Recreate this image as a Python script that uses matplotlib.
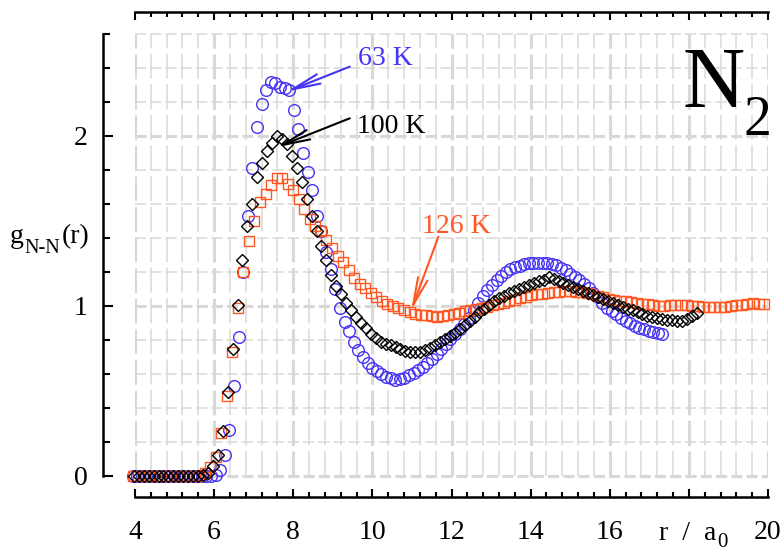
import numpy as np
import matplotlib
matplotlib.use("Agg")
import matplotlib.pyplot as plt
import matplotlib.transforms as mtransforms
from matplotlib.ticker import FixedLocator

plt.rcParams['font.family'] = ['Liberation Serif', 'DejaVu Serif']
plt.rcParams['mathtext.fontset'] = 'custom'
plt.rcParams['mathtext.rm'] = 'Liberation Serif'
plt.rcParams['mathtext.it'] = 'Liberation Serif:italic'
plt.rcParams['lines.scale_dashes'] = False

# ---- radial distribution functions g_N-N(r), r in bohr ----
r_63 = np.linspace(3.94, 17.33, 116)
g_63 = [0.0] * 18 + [
    0.008, 0.035, 0.124, 0.27, 0.53, 0.82, 1.2, 1.53, 1.81, 2.05,
    2.19, 2.27, 2.32, 2.31, 2.29, 2.28, 2.27, 2.15, 2.04, 1.9,
    1.79, 1.68, 1.53, 1.44, 1.32, 1.22, 1.1, 0.99, 0.905, 0.85,
    0.79, 0.74, 0.70, 0.665, 0.635, 0.615, 0.598, 0.585, 0.575, 0.567,
    0.568, 0.578, 0.592, 0.607, 0.622, 0.64, 0.663, 0.69, 0.715, 0.745,
    0.775, 0.805, 0.835, 0.865, 0.895, 0.93, 0.975, 1.02, 1.06, 1.095,
    1.125, 1.15, 1.175, 1.2, 1.215, 1.228, 1.238, 1.245, 1.25, 1.252,
    1.253, 1.253, 1.252, 1.248, 1.24, 1.225, 1.21, 1.19, 1.17, 1.15,
    1.128, 1.105, 1.078, 1.05, 1.02, 0.99, 0.97, 0.95, 0.93, 0.912,
    0.897, 0.884, 0.872, 0.862, 0.853, 0.846, 0.84, 0.836]

r_100 = np.linspace(3.97, 18.20, 115)
g_100 = [0.0] * 14 + [
    0.005, 0.016, 0.059, 0.124, 0.267, 0.496, 0.745, 1.006, 1.27, 1.47,
    1.60, 1.76, 1.84, 1.91, 1.96, 2.0, 1.98, 1.95, 1.88, 1.81,
    1.73, 1.63, 1.53, 1.44, 1.35, 1.27, 1.18, 1.12, 1.07, 1.02,
    0.975, 0.935, 0.90, 0.87, 0.835, 0.81, 0.79, 0.778, 0.77, 0.758,
    0.745, 0.735, 0.73, 0.728, 0.73, 0.74, 0.755, 0.77, 0.787, 0.805,
    0.822, 0.842, 0.865, 0.888, 0.912, 0.937, 0.962, 0.985, 1.008, 1.028,
    1.045, 1.06, 1.075, 1.09, 1.102, 1.113, 1.124, 1.137, 1.146, 1.155,
    1.17, 1.16, 1.146, 1.135, 1.122, 1.11, 1.097, 1.086, 1.075, 1.064,
    1.052, 1.041, 1.03, 1.018, 1.006, 0.995, 0.985, 0.975, 0.963, 0.952,
    0.943, 0.935, 0.93, 0.925, 0.92, 0.915, 0.91, 0.912, 0.925, 0.94,
    0.957]

r_126 = np.linspace(3.94, 19.90, 115)
g_126 = [0.0] * 13 + [
    0.02, 0.05, 0.114, 0.25, 0.47, 0.73, 0.99, 1.2, 1.38, 1.5,
    1.61, 1.66, 1.71, 1.755, 1.75, 1.715, 1.68, 1.63, 1.57, 1.51,
    1.47, 1.44, 1.39, 1.34, 1.295, 1.26, 1.21, 1.165, 1.13, 1.105,
    1.078, 1.05, 1.03, 1.01, 1.0, 0.99, 0.978, 0.965, 0.95, 0.948,
    0.945, 0.94, 0.937, 0.942, 0.945, 0.95, 0.96, 0.97, 0.976, 0.98,
    0.988, 0.996, 1.005, 1.012, 1.02, 1.028, 1.037, 1.045, 1.055, 1.063,
    1.068, 1.072, 1.076, 1.08, 1.085, 1.086, 1.086, 1.084, 1.08, 1.075,
    1.068, 1.06, 1.052, 1.043, 1.037, 1.032, 1.027, 1.022, 1.018, 1.014,
    1.009, 1.005, 1.002, 1.0, 1.004, 1.006, 1.006, 1.003, 1.0, 0.997,
    0.995, 0.993, 0.992, 0.994, 0.996, 1.0, 1.004, 1.007, 1.012, 1.015,
    1.013, 1.012]

x_ticks = [4, 6, 8, 10, 12, 14, 16, 18, 20]
x_labels = ['4', '6', '8', '10', '12', '14', '16', '', '20']
y_ticks = [0, 1, 2]
y_labels = ['0', '1', '2']

BLUE = '#4634f4'
ORANGE = '#ff5722'
GRID = '#d8d8d4'

fig = plt.figure(figsize=(7.84, 5.51), dpi=100)
ax = fig.add_axes([135 / 784, 54.3 / 551, 633 / 784, 485 / 551])
ax.set_xlim(4, 20)
ax.set_ylim(-0.1218, 2.731)

# dashed background grid, limited to the data frame 4..20 x 0..2.6
gx = np.round(np.arange(4, 20.001, 0.4), 3)
gy = np.round(np.arange(0, 2.601, 0.2), 3)
for x in gx:
    major = abs(x / 2 - round(x / 2)) < 1e-6
    ax.vlines(x, 0, 2.6, colors=GRID, linewidth=2.2 if major else 1.1,
              linestyles=[(0, (18, 4))], zorder=0)
for y in gy:
    major = abs(y - round(y)) < 1e-6
    ax.hlines(y, 4, 20, colors=GRID, linewidth=2.2 if major else 1.1,
              linestyles=[(0, (8, 3))], zorder=0)

ax.plot(r_63, g_63, linestyle='none', marker='o', ms=8.4, mfc='none',
        mec=BLUE, mew=1.0, clip_on=False, zorder=3)
ax.plot(r_126, g_126, linestyle='none', marker='s', ms=7.4, mfc='none',
        mec=ORANGE, mew=1.0, clip_on=False, zorder=4)
ax.plot(r_100, g_100, linestyle='none', marker='D', ms=6.4, mfc='none',
        mec='black', mew=1.0, clip_on=False, zorder=5)


def pointer(tail, tip, color):
    """Open-headed arrow whose point lands on `tip` (data coords)."""
    lw = 1.5
    hl, hw, ms = 1.0, 0.18, 20
    to_px = ax.transData
    p0 = np.array(to_px.transform(tail))
    p1 = np.array(to_px.transform(tip))
    u = (p1 - p0) / np.hypot(*(p1 - p0))
    # the head of '->' is set back by half a line width over sin(head angle)
    sin_t = hw / np.hypot(hl, hw)
    back = 0.5 * lw * fig.dpi / 72 / sin_t
    p1x = to_px.inverted().transform(p1 + u * back)
    ax.annotate('', xy=tuple(p1x), xytext=tail,
                arrowprops=dict(arrowstyle=f'->, head_length={hl}, head_width={hw}',
                                mutation_scale=ms, lw=lw, color=color,
                                shrinkA=0, shrinkB=0), zorder=6)


# temperature labels with arrows
pointer((9.43, 2.408), (7.99, 2.275), BLUE)
ax.text(9.64, 2.418, '63 K', color=BLUE, fontsize=20, ha='left', va='baseline')
pointer((9.43, 2.104), (7.73, 1.947), 'black')
ax.text(9.60, 2.016, '100 K', color='black', fontsize=20, ha='left', va='baseline')
pointer((11.67, 1.408), (11.03, 1.006), ORANGE)
ax.text(11.25, 1.428, '126 K', color=ORANGE, fontsize=20, ha='left', va='baseline')

# molecule label
ax.text(17.85, 2.17, 'N', fontsize=62, ha='left', va='baseline')
ax.text(19.37, 2.006, '2', fontsize=40, ha='left', va='baseline')

# spines and ticks
ax.spines['right'].set_visible(False)
for s in ('left', 'bottom', 'top'):
    ax.spines[s].set_linewidth(1.8)
ax.spines['left'].set_position(('outward', 22.7))
ax.spines['left'].set_bounds(0, 2.6)

ax.xaxis.set_major_locator(FixedLocator(x_ticks))
ax.xaxis.set_minor_locator(FixedLocator([v for v in gx if abs(v / 2 - round(v / 2)) > 1e-6]))
ax.set_xticklabels(x_labels)
ax.yaxis.set_major_locator(FixedLocator(y_ticks))
ax.yaxis.set_minor_locator(FixedLocator([v for v in gy if abs(v - round(v)) > 1e-6]))
ax.set_yticklabels(y_labels)

ax.tick_params(axis='x', which='both', direction='in', top=True, bottom=True,
               width=1.5, labelsize=20, pad=17)
ax.tick_params(axis='x', which='major', length=5.8)
ax.tick_params(axis='x', which='minor', length=3.3)
ax.tick_params(axis='y', which='both', direction='in', left=True, right=False,
               width=1.5, labelsize=20, pad=11.5)
ax.tick_params(axis='y', which='major', length=7.2)
ax.tick_params(axis='y', which='minor', length=5.0)

# axis quantities assembled piece by piece in pixel coordinates
H = fig.get_size_inches()[1] * fig.dpi
pix = mtransforms.IdentityTransform()
fig.canvas.draw()
renderer = fig.canvas.get_renderer()

t_g = fig.text(10, H - 243, 'g', fontsize=20, transform=pix, va='baseline')
x_next = t_g.get_window_extent(renderer).x1 + 1
t_s = fig.text(x_next, H - 253, 'N-N', fontsize=14.5, transform=pix, va='baseline')
x_next = t_s.get_window_extent(renderer).x1 + 1
fig.text(x_next, H - 243, '(r)', fontsize=20, transform=pix, va='baseline')

t_r = fig.text(659, H - 540, 'r  /  a', fontsize=20, transform=pix, va='baseline')
x_next = t_r.get_window_extent(renderer).x1 + 1
fig.text(x_next, H - 547, '0', fontsize=15, transform=pix, va='baseline')

fig.savefig('out.png', dpi=100)
